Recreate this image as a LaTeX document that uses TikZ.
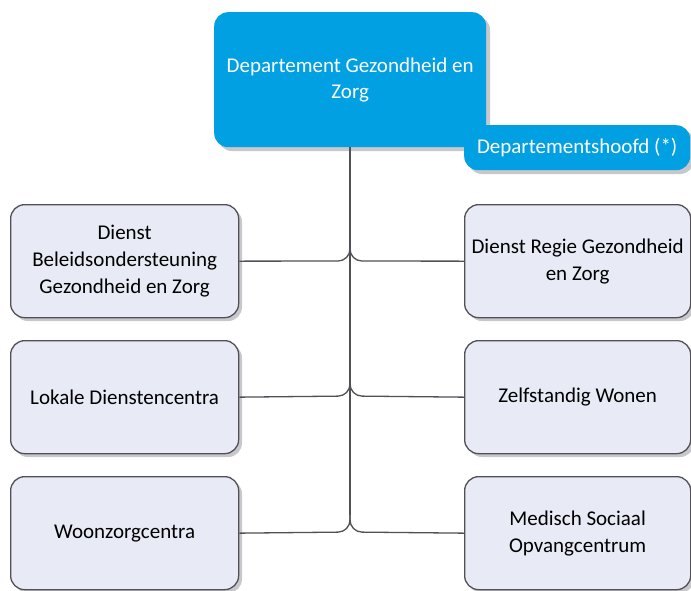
\documentclass[tikz,border=0pt]{standalone}
\usepackage{fontspec}
\setmainfont{Carlito}
\definecolor{topblue}{RGB}{0,160,227}
\definecolor{boxfill}{RGB}{232,235,245}
\definecolor{boxline}{RGB}{80,80,86}
\definecolor{shadowgray}{RGB}{200,200,204}
\begin{document}
\begin{tikzpicture}[x=1pt,y=-1pt,
  unit/.style={draw=boxline,line width=1.3pt,fill=boxfill,rounded corners=14pt,
    minimum width=228pt,minimum height=113pt,align=center,
    font=\fontsize{21}{27}\selectfont,inner sep=0pt},
  shad/.style={fill=shadowgray,rounded corners=14pt},
  link/.style={draw=boxline,line width=1.3pt,rounded corners=12pt}]
\useasboundingbox (0,0) rectangle (691,590);
% shadows
\fill[shad] (218,16) rectangle (490,151);
\fill[shad] (468,129) rectangle (694,174);
\foreach \y in {208,344,480}{
  \fill[shad] (14,\y) rectangle (242,\y+113);
  \fill[shad] (468,\y) rectangle (694,\y+113);
}
% trunk and branches
\coordinate (t0) at (350,147);
\coordinate (b1) at (350,261);
\coordinate (b2) at (350,396);
\coordinate (b3) at (350,532);
% boxes
\node[unit,anchor=north west] (l1) at (10,204) {Dienst\\Beleidsondersteuning\\Gezondheid en Zorg};
\node[unit,anchor=north west] (l2) at (10,340) {Lokale Dienstencentra};
\node[unit,anchor=north west] (l3) at (10,476) {Woonzorgcentra};
\node[unit,anchor=north west,minimum width=226pt] (r1) at (464,204) {Dienst Regie Gezondheid\\en Zorg};
\node[unit,anchor=north west,minimum width=226pt] (r2) at (464,340) {Zelfstandig Wonen};
\node[unit,anchor=north west,minimum width=226pt] (r3) at (464,476) {Medisch Sociaal\\Opvangcentrum};
\draw[link,rounded corners=0pt] (t0) -- (350,515);
\draw[link] (l1.east) -- (b1) -- (350,236);
\draw[link] (r1.west) -- (b1) -- (350,236);
\draw[link] (l2.east) -- (b2) -- (350,371);
\draw[link] (r2.west) -- (b2) -- (350,371);
\draw[link] (l3.east) -- (b3) -- (350,507);
\draw[link] (r3.west) -- (b3) -- (350,507);
% top
\node[fill=topblue,rounded corners=14pt,anchor=north west,minimum width=272pt,minimum height=135pt,
  align=center,text=white,font=\fontsize{21}{26}\selectfont,inner sep=0pt] (top) at (214,12)
  {Departement Gezondheid en\\Zorg};
\node[fill=topblue,rounded corners=14pt,anchor=north west,minimum width=226pt,minimum height=45pt,
  text=white,font=\fontsize{21}{24}\selectfont,inner sep=0pt] (head) at (464,125) {Departementshoofd (*)};
\end{tikzpicture}
\end{document}
